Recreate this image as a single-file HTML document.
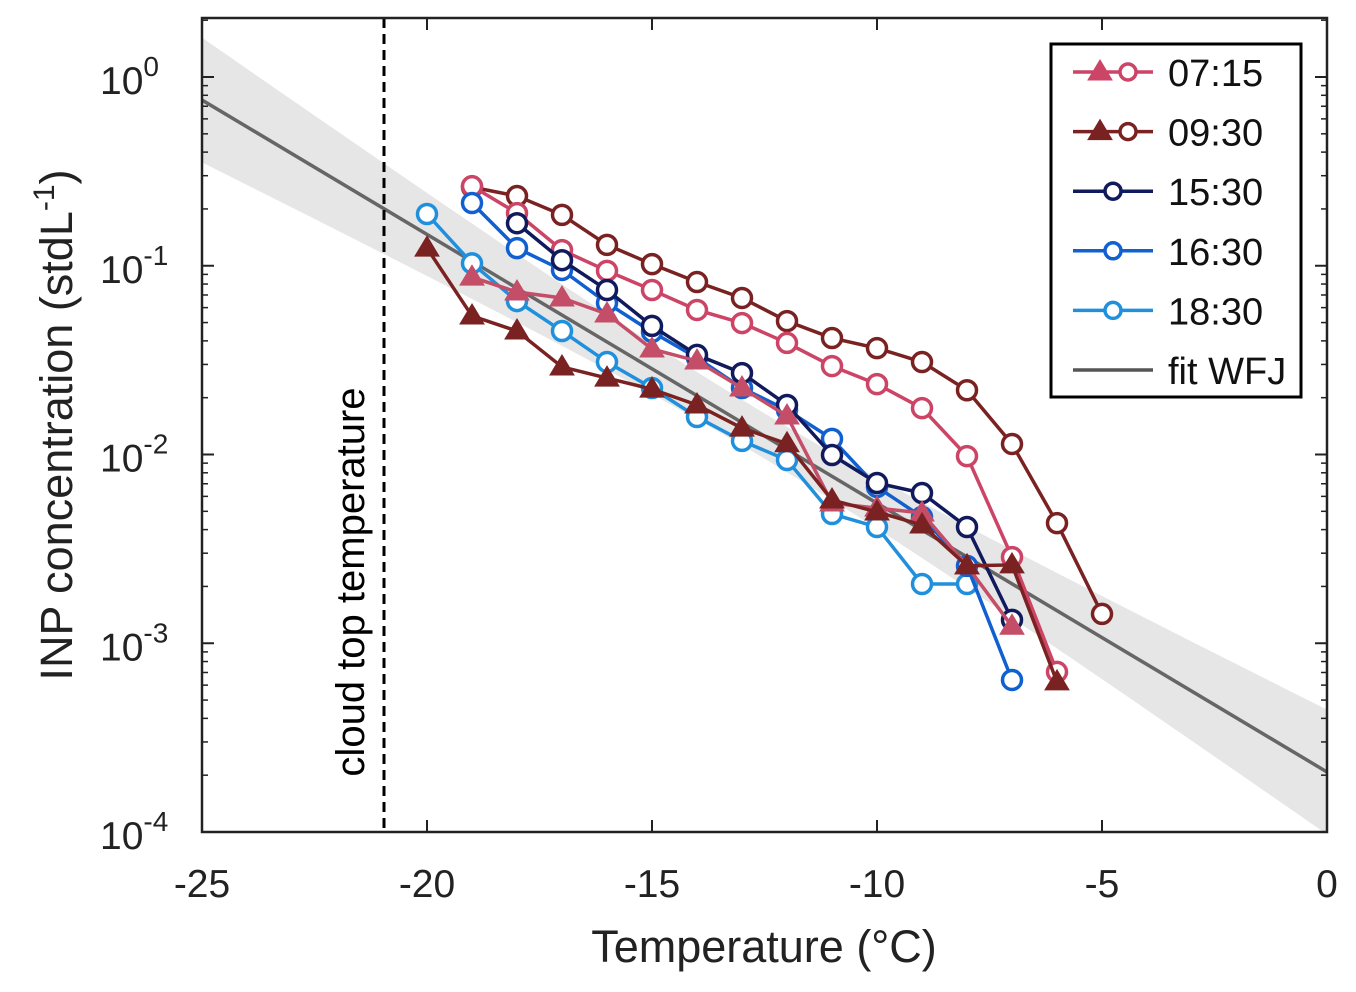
<!DOCTYPE html>
<html><head><meta charset="utf-8"><style>
html,body{margin:0;padding:0;background:#fff;}
svg{display:block;font-family:"Liberation Sans",sans-serif;}
</style></head><body>
<svg id="chart" width="1356" height="992" viewBox="0 0 1356 992"></svg>
<script>
const c0715T = [-19,-18,-17,-16,-15,-14,-13,-12,-11,-10,-9,-8,-7,-6];
const c0715 = [0.264,0.19,0.121,0.094,0.0744,0.0583,0.0497,0.039,0.0294,0.0236,0.0176,0.0098,0.00286,0.000705];
const t0715T = [-19,-18,-17,-16,-15,-14,-13,-12,-11,-10,-9,-8,-7];
const t0715 = [0.087,0.0726,0.0675,0.0555,0.0362,0.0313,0.0225,0.016,0.00553,0.0052,0.0049,0.00257,0.00123];
const c0930T = [-19,-18,-17,-16,-15,-14,-13,-12,-11,-10,-9,-8,-7,-6,-5];
const c0930 = [0.261,0.234,0.186,0.129,0.102,0.082,0.0675,0.0509,0.0414,0.0366,0.0309,0.0219,0.01137,0.00433,0.00143];
const t0930T = [-20,-19,-18,-17,-16,-15,-14,-13,-12,-11,-10,-9,-8,-7,-6];
const t0930 = [0.124,0.0542,0.0451,0.0291,0.0254,0.0222,0.0183,0.0138,0.0114,0.00574,0.00496,0.00423,0.00257,0.0026,0.000624];
const s1530T = [-18,-17,-16,-15,-14,-13,-12,-11,-10,-9,-8,-7];
const s1530 = [0.168,0.107,0.0744,0.048,0.0337,0.027,0.0183,0.00994,0.00706,0.00625,0.00413,0.00133];
const s1630T = [-19,-18,-17,-16,-15,-14,-13,-12,-11,-10,-9,-8,-7];
const s1630 = [0.215,0.124,0.095,0.0635,0.0446,0.0325,0.0225,0.0172,0.0121,0.00673,0.00467,0.00257,0.000639];
const s1830T = [-20,-19,-18,-17,-16,-15,-14,-13,-12,-11,-10,-9,-8];
const s1830 = [0.188,0.103,0.065,0.0451,0.0309,0.0225,0.0158,0.0118,0.00935,0.00484,0.00413,0.00206,0.00206];
const xTicks = [-25,-20,-15,-10,-5,0];
const yTickExp = [0,-1,-2,-3,-4];
const fitIntercept = -3.682, fitSlope = -0.1424;
const legendLabels = ["07:15","09:30","15:30","16:30","18:30","fit WFJ"];

const NS="http://www.w3.org/2000/svg";
const svg=document.getElementById('chart');
const X0=202,X1=1327,Y0=18,Y1=832;
const xs=t=>X0+(t+25)/25*(X1-X0);
const ys=v=>77-Math.log10(v)*188.75;
function el(tag,attrs,parent){const e=document.createElementNS(NS,tag);for(const k in attrs)e.setAttribute(k,attrs[k]);(parent||svg).appendChild(e);return e;}

let up=[],dn=[];
for(let t=-25;t<=0.001;t+=0.5){const L=fitIntercept+fitSlope*t;const w=Math.sqrt(0.0144+0.000606*(t+12.5)*(t+12.5));up.push(xs(t)+','+(77-(L+w)*188.75));dn.unshift(xs(t)+','+(77-(L-w)*188.75));}
const clip=el('clipPath',{id:'pc'});el('rect',{x:X0,y:Y0,width:X1-X0,height:Y1-Y0},clip);
const g=el('g',{'clip-path':'url(#pc)'});
const band=el('polygon',{points:up.concat(dn).join(' '),fill:'#e6e6e6'},g);


const fit=el('line',{x1:xs(-25),y1:77-(fitIntercept+fitSlope*-25)*188.75,x2:xs(0),y2:77-fitIntercept*188.75,stroke:'#666',"stroke-width":3.5},g);



const ct=el('line',{x1:xs(-21)+2,y1:Y0,x2:xs(-21)+2,y2:Y1,stroke:'#000','stroke-width':3,'stroke-dasharray':'10,6'});


const ctt=el('text',{x:0,y:0,transform:'translate(364,582) rotate(-90)','text-anchor':'middle','font-size':40,fill:'#000'});
ctt.textContent='cloud top temperature';



function tri(cx,cy,col,parent){return el('polygon',{points:`${cx},${cy-12} ${cx-12},${cy+8} ${cx+12},${cy+8}`,fill:col,stroke:col,'stroke-width':1},parent);}
function series(T,V,col,kind,name){
  const gg=el('g',{},g);
  
  
  el('polyline',{points:T.map((t,i)=>xs(t)+','+ys(V[i])).join(' '),fill:'none',stroke:col,'stroke-width':3.5},gg);
  T.forEach((t,i)=>{let m;
    if(kind==='c')m=el('circle',{cx:xs(t),cy:ys(V[i]),r:9.5,fill:'#fff',stroke:col,'stroke-width':3.5},gg);
    else m=tri(xs(t),ys(V[i]),col,gg);
    
    
  });
}
series(c0930T,c0930,'#7a2222','c','series-0930-circles');
series(c0715T,c0715,'#cc4466','c','series-0715-circles');
series(s1830T,s1830,'#2090dd','c','series-1830');
series(s1630T,s1630,'#1060d0','c','series-1630');
series(s1530T,s1530,'#111a5c','c','series-1530');
series(t0715T,t0715,'#c44d68','t','series-0715-triangles');
series(t0930T,t0930,'#7a2222','t','series-0930-triangles');

const box=el('rect',{x:X0,y:Y0,width:X1-X0,height:Y1-Y0,fill:'none',stroke:'#222','stroke-width':2.5});


xTicks.forEach(t=>{
  el('line',{x1:xs(t),y1:Y1,x2:xs(t),y2:Y1-12,stroke:'#222','stroke-width':2});
  el('line',{x1:xs(t),y1:Y0,x2:xs(t),y2:Y0+12,stroke:'#222','stroke-width':2});
  const tx=el('text',{x:xs(t),y:897,'text-anchor':'middle','font-size':39,fill:'#222'});
  tx.textContent=t;
  
  
});
yTickExp.forEach(e=>{
  const y=ys(Math.pow(10,e));
  el('line',{x1:X0,y1:y,x2:X0+12,y2:y,stroke:'#222','stroke-width':2});
  el('line',{x1:X1,y1:y,x2:X1-12,y2:y,stroke:'#222','stroke-width':2});
  for(let k=2;k<10&&e<0;k++){const yy=ys(k*Math.pow(10,e));el('line',{x1:X0,y1:yy,x2:X0+6,y2:yy,stroke:'#222','stroke-width':1.5});el('line',{x1:X1,y1:yy,x2:X1-6,y2:yy,stroke:'#222','stroke-width':1.5});}
  const tx=el('text',{x:100,y:y+17,'font-size':39,fill:'#222'});
  tx.innerHTML='10<tspan dy="-18" font-size="28">'+e+'</tspan>';
  
  
});
for(let k=2;k<10;k++){const yy=ys(k);if(yy>Y0){el('line',{x1:X0,y1:yy,x2:X0+6,y2:yy,stroke:'#222','stroke-width':1.5});el('line',{x1:X1,y1:yy,x2:X1-6,y2:yy,stroke:'#222','stroke-width':1.5});}}
const xl=el('text',{x:764,y:962,'text-anchor':'middle','font-size':45,fill:'#222'});
xl.textContent='Temperature (°C)';


const yl=el('text',{x:0,y:0,transform:'translate(72,425) rotate(-90)','text-anchor':'middle','font-size':45,fill:'#222'});
yl.innerHTML='INP concentration (stdL<tspan dy="-18" font-size="30">-1</tspan><tspan dy="18">)</tspan>';



const lg=el('g',{});


el('rect',{x:1051,y:44,width:250,height:353,fill:'#fff',stroke:'#000','stroke-width':3},lg);
const lcol=['#cc4466','#7a2222','#111a5c','#1060d0','#2090dd','#555'];
legendLabels.forEach((lab,i)=>{
  const y=72+i*59.6;
  const e=el('g',{},lg);
  
  
  el('line',{x1:1073,y1:y,x2:1153,y2:y,stroke:lcol[i],'stroke-width':3.5},e);
  if(i<2){tri(1100,y,lcol[i],e);el('circle',{cx:1128,cy:y,r:8,fill:'#fff',stroke:lcol[i],'stroke-width':3.5},e);}
  else if(i<5){el('circle',{cx:1113,cy:y,r:8,fill:'#fff',stroke:lcol[i],'stroke-width':3.5},e);}
  const t=el('text',{x:1168,y:y+14,'font-size':38,fill:'#111'},e);t.textContent=lab;
});
</script>
</body></html>
